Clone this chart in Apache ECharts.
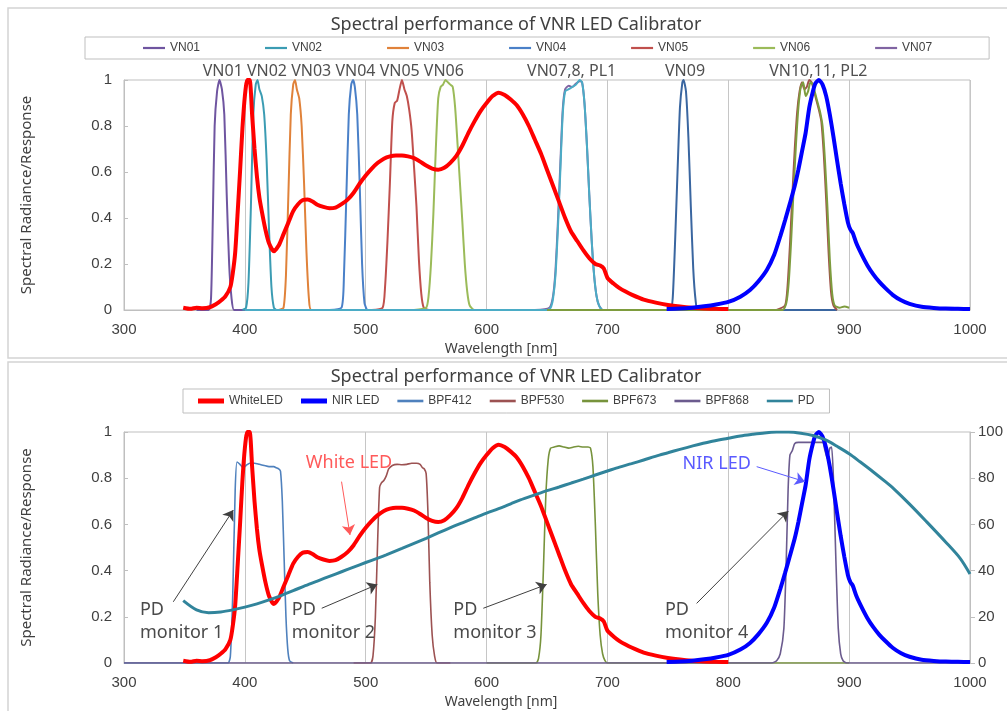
<!DOCTYPE html>
<html>
<head>
<meta charset="utf-8">
<script src="https://cdn.jsdelivr.net/npm/echarts@6/dist/echarts.min.js"></script>
<style>
  html, body { margin: 0; padding: 0; background: #fff; }
  #main { width: 1007px; height: 711px; }
</style>
</head>
<body>
<div id="main"></div>
<script>
// wavelength [nm], relative value
var whiteLed = [[349,0.01],[355,0.005],[360,0.01],[365,0.008],[371,0.012],[376,0.025],[380,0.04],[384,0.06],[388,0.1],[390,0.16],[392,0.25],[394,0.42],[396,0.6],[398,0.79],[400,0.93],[402,1.0],[404,1.0],[406,0.85],[408,0.7],[410,0.58],[412,0.49],[414,0.43],[417,0.35],[420,0.29],[424,0.255],[428,0.28],[432,0.33],[436,0.38],[440,0.43],[444,0.46],[448,0.478],[452,0.48],[456,0.472],[460,0.458],[465,0.448],[470,0.442],[475,0.445],[480,0.46],[485,0.48],[490,0.51],[495,0.55],[500,0.585],[505,0.615],[510,0.64],[515,0.658],[520,0.668],[525,0.672],[530,0.672],[535,0.668],[540,0.66],[545,0.645],[550,0.628],[555,0.615],[560,0.61],[565,0.618],[570,0.64],[575,0.67],[580,0.715],[585,0.77],[590,0.82],[595,0.865],[600,0.9],[605,0.93],[610,0.945],[615,0.935],[620,0.915],[625,0.89],[630,0.85],[635,0.8],[640,0.74],[645,0.68],[650,0.61],[655,0.54],[660,0.47],[665,0.4],[670,0.34],[675,0.3],[680,0.26],[685,0.225],[690,0.2],[694,0.193],[697,0.18],[700,0.14],[705,0.115],[710,0.095],[715,0.08],[720,0.067],[730,0.045],[740,0.032],[750,0.022],[760,0.015],[770,0.01],[780,0.007],[790,0.005],[800,0.004]];
var nirLed = [[749,0.004],[760,0.006],[770,0.01],[780,0.016],[790,0.024],[800,0.035],[810,0.058],[818,0.087],[825,0.125],[832,0.175],[838,0.24],[843,0.32],[847,0.39],[851,0.464],[855,0.54],[858,0.61],[861,0.69],[864,0.77],[867,0.88],[870,0.95],[872,0.985],[875,1.0],[878,0.98],[881,0.93],[884,0.85],[887,0.754],[890,0.65],[893,0.55],[896,0.46],[899,0.38],[901,0.35],[903,0.335],[906,0.29],[910,0.245],[915,0.195],[920,0.155],[925,0.122],[930,0.095],[936,0.066],[943,0.042],[950,0.027],[960,0.014],[970,0.009],[980,0.006],[990,0.005],[1000,0.004]];

var vn01 = [[360,0],[370,0],[372,0.05],[373.5,0.4],[375,0.8],[377,0.95],[379,1.0],[381,0.96],[383,0.85],[385,0.5],[387,0.2],[389,0.05],[391,0],[400,0]];
var vn02 = [[398,0],[401,0.01],[403,0.12],[405,0.45],[407,0.85],[409,0.98],[410.5,1.0],[412,0.96],[414,0.93],[416,0.85],[418,0.65],[420,0.35],[422,0.1],[424,0.01],[426,0]];
var vn03 = [[428,0],[432,0.01],[434,0.15],[436,0.5],[438,0.85],[440,0.98],[441.5,1.0],[443,0.96],[445,0.92],[447,0.8],[449,0.55],[451,0.25],[453,0.05],[455,0],[500,0]];
var vn04 = [[470,0],[480,0.01],[482,0.15],[484,0.5],[486,0.85],[488,0.98],[489.5,1.0],[491,0.97],[493,0.85],[495,0.55],[497,0.2],[499,0.03],[501,0]];
var vn05 = [[505,0],[514,0.01],[516,0.1],[518,0.3],[520,0.55],[522,0.82],[524,0.9],[526,0.91],[528,0.96],[530,1.0],[532,0.96],[534,0.93],[536,0.87],[538,0.78],[540,0.62],[542,0.45],[544,0.22],[546,0.07],[548,0.01],[552,0]];
var vn06 = [[540,0],[550,0.01],[552,0.06],[554,0.2],[556,0.42],[558,0.7],[560,0.92],[562,0.97],[564,0.98],[566,1.0],[568,0.99],[570,0.98],[572,0.97],[574,0.88],[576,0.72],[578,0.55],[580,0.38],[582,0.2],[584,0.08],[586,0.02],[590,0],[700,0]];
var vn07 = [[640,0],[652,0.01],[655,0.06],[657,0.17],[659,0.38],[661,0.63],[663,0.87],[665,0.96],[668,0.975],[671,0.97],[674,0.985],[677,0.995],[679,0.99],[681,0.9],[683,0.72],[685,0.5],[687,0.3],[689,0.15],[691,0.06],[693,0.02],[696,0],[700,0]];
var vn08 = [[400,0],[650,0],[653,0.01],[655,0.05],[657,0.15],[659,0.35],[661,0.6],[663,0.85],[665,0.95],[668,0.96],[671,0.97],[674,0.98],[677,1.0],[679,0.99],[681,0.9],[683,0.72],[685,0.5],[687,0.3],[689,0.15],[691,0.06],[693,0.02],[696,0],[705,0]];
var vn09 = [[740,0],[752,0],[754,0.05],[756,0.3],[758,0.6],[760,0.88],[762,0.99],[763,1.0],[765,0.95],[767,0.75],[769,0.45],[771,0.18],[773,0.04],[775,0],[890,0]];
var vn10 = [[650,0],[845,0],[848,0.03],[850,0.12],[852,0.3],[854,0.52],[856,0.72],[858,0.88],[860,0.97],[862,0.99],[864,0.93],[866,0.95],[868,0.99],[870,0.98],[872,0.94],[874,0.9],[876,0.86],[878,0.8],[880,0.65],[882,0.45],[884,0.22],[886,0.07],[888,0.02],[892,0.01],[896,0.015],[900,0.01]];
var vn11 = [[840,0],[847,0.02],[849,0.1],[851,0.28],[853,0.5],[855,0.7],[857,0.86],[859,0.95],[861,0.99],[863,0.96],[865,0.97],[867,1.0],[869,0.99],[871,0.95],[873,0.91],[875,0.87],[877,0.82],[879,0.68],[881,0.48],[883,0.25],[885,0.08],[887,0.02],[890,0]];

var bpf412 = [[300,0],[386,0],[388,0.03],[390,0.3],[392,0.75],[393.5,0.87],[396,0.86],[398.5,0.845],[401,0.855],[404,0.865],[408,0.865],[412,0.86],[416,0.855],[420,0.85],[424,0.85],[426,0.845],[428,0.84],[429.5,0.83],[431,0.7],[432.5,0.45],[434,0.2],[435.5,0.06],[437,0.01],[440,0]];
var bpf530 = [[490,0],[504,0],[506,0.03],[508,0.2],[510,0.55],[511.5,0.76],[513,0.78],[515,0.79],[517,0.81],[519,0.84],[522,0.855],[526,0.86],[530,0.858],[534,0.86],[538,0.865],[542,0.865],[545,0.86],[547,0.845],[548.5,0.84],[550,0.82],[551.5,0.65],[553,0.35],[555,0.12],[557,0.03],[559,0],[570,0]];
var bpf673 = [[600,0],[641,0],[643,0.02],[645,0.12],[647,0.4],[649,0.72],[651,0.88],[653,0.93],[656,0.935],[660,0.94],[664,0.935],[668,0.93],[672,0.935],[676,0.938],[680,0.935],[684,0.935],[686,0.93],[688,0.85],[690,0.6],[692,0.3],[694,0.12],[696,0.04],[698,0.01],[700,0],[900,0]];
var bpf868 = [[300,0],[836,0],[840,0.01],[843,0.04],[846,0.15],[848,0.45],[849.5,0.75],[851,0.9],[853,0.92],[855,0.95],[858,0.955],[865,0.955],[872,0.955],[878,0.955],[880,0.92],[882,0.885],[884,0.93],[885.5,0.935],[887,0.8],[889,0.45],[891,0.15],[893,0.04],[895,0.01],[898,0],[1000,0]];
// PD response in % (right axis)
var pdResp = [[349,27],[360,23],[370,21.8],[380,22.1],[390,23],[400,24.2],[410,25.6],[420,27.3],[430,29.2],[440,31.3],[450,33.5],[462,35.9],[470,37.5],[480,39.5],[490,41.5],[500,43.5],[510,45.4],[517,46.8],[530,49.6],[540,51.8],[550,54],[560,56.3],[572,59],[580,60.7],[590,62.8],[600,64.9],[610,66.8],[620,68.9],[628,70.6],[640,72.8],[650,74.6],[660,76.2],[670,77.9],[680,79.6],[690,81.4],[700,83.1],[710,84.8],[720,86.3],[730,87.9],[743,90],[750,91],[760,92.5],[770,93.9],[785,95.8],[800,97.3],[810,98.3],[820,99],[830,99.6],[840,99.95],[850,100],[860,99.5],[870,98.5],[881,96.5],[890,93.8],[900,90.6],[909,87.1],[920,82.7],[930,78.5],[937,75.4],[950,68.8],[964,61.2],[980,52.3],[992,45.2],[1000,38.5]];

var topLegend = ['VN01', 'VN02', 'VN03', 'VN04', 'VN05', 'VN06', 'VN07'];
var bottomLegend = ['WhiteLED', 'NIR LED', 'BPF412', 'BPF530', 'BPF673', 'BPF868', 'PD'];
var thickLegend = ['WhiteLED', 'NIR LED'];
var titleText = 'Spectral performance of VNR LED Calibrator';
var xTicks = { min: 300, max: 1000, step: 100 };

// labels above the top plot: [centre wavelength, text]
var bandLabels = [[473.2, 'VN01 VN02 VN03 VN04 VN05 VN06'], [670.4, 'VN07,8, PL1'], [764.2, 'VN09'], [874.5, 'VN10,11, PL2']];
// bottom plot notes: [wavelength, value, text]
var pdNotes = [[313.2, 0.18, 'PD\nmonitor 1'], [438.8, 0.18, 'PD\nmonitor 2'], [572.5, 0.18, 'PD\nmonitor 3'], [747.6, 0.18, 'PD\nmonitor 4']];
var pdArrows = [[[340.8, 0.265], [390.4, 0.662]], [[463.6, 0.237], [509.6, 0.34]], [[597.3, 0.237], [649.7, 0.34]], [[773.8, 0.258], [849.7, 0.658]]];
var ledNotes = [[486.2, 0.866, 'White LED', '#ff5a5a', [[480, 0.785], [487, 0.554]]], [790.4, 0.864, 'NIR LED', '#5a5aff', [[823.5, 0.85], [863.5, 0.785]]]];

var FONT = "'Noto Sans', 'Liberation Sans', sans-serif";
var TXT = '#404040';
var GRIDC = '#c6c6c6';
var THIN_ICON = 'path://M0,0H10V1H0Z';

function xAxisFor(gi) {
    return {
        type: 'value', gridIndex: gi, min: xTicks.min, max: xTicks.max, interval: xTicks.step,
        name: 'Wavelength [nm]', nameLocation: 'middle', nameGap: 32,
        nameTextStyle: { color: TXT, fontSize: 14, fontFamily: FONT, padding: [0, 92, 0, 0] },
        axisLine: { lineStyle: { color: '#bfbfbf' } },
        axisTick: { show: false },
        axisLabel: { color: TXT, fontSize: 15, fontFamily: 'Liberation Sans', margin: 12,
                     formatter: function (v) { return String(v); } },
        splitLine: { show: true, lineStyle: { color: GRIDC, width: 1 } }
    };
}
function yAxisFor(gi) {
    return {
        type: 'value', gridIndex: gi, min: 0, max: 1, interval: 0.2,
        name: 'Spectral Radiance/Response', nameLocation: 'middle', nameGap: 90, nameRotate: 90,
        nameTextStyle: { color: TXT, fontSize: 15, fontFamily: FONT },
        axisLine: { show: true, lineStyle: { color: '#bfbfbf' } },
        axisTick: { show: true, inside: true, length: 4, lineStyle: { color: '#bfbfbf' } },
        axisLabel: { color: TXT, fontSize: 15, fontFamily: 'Liberation Sans', margin: 12 },
        splitLine: { show: false }
    };
}
function band(name, data, color, gi, width) {
    return {
        name: name, type: 'line', data: data, xAxisIndex: gi, yAxisIndex: gi,
        showSymbol: false, symbol: 'none', smooth: 0.2, silent: true,
        lineStyle: { color: color, width: width || 2 }, itemStyle: { color: color }
    };
}

var chart = echarts.init(document.getElementById('main'), null, { renderer: 'canvas' });

var series = [
    band('VN01', vn01, '#6f55a0', 0),
    band('VN02', vn02, '#3b9cb3', 0),
    band('VN03', vn03, '#e0823a', 0),
    band('VN04', vn04, '#4a80c8', 0),
    band('VN05', vn05, '#c0504d', 0),
    band('VN06', vn06, '#9bbb59', 0),
    band('VN07', vn07, '#8064a2', 0),
    band('VN08', vn08, '#4bacc6', 0),
    band('VN09', vn09, '#3a66a0', 0),
    band('VN11', vn11, '#a0524a', 0),
    band('VN10', vn10, '#7e9c3e', 0),
    band('White LED (VN)', whiteLed, '#ff0000', 0, 4),
    band('NIR LED (VN)', nirLed, '#0000ff', 0, 4),
    {
        name: 'topNotes', type: 'line', data: [], xAxisIndex: 0, yAxisIndex: 0, silent: true,
        markPoint: {
            symbol: 'rect', symbolSize: 0, silent: true,
            label: { show: true, position: 'top', distance: 1, color: '#505050', fontSize: 16, fontFamily: FONT },
            data: bandLabels.map(function (b) {
                return { coord: [b[0], 1], label: { formatter: b[1] } };
            })
        }
    },
    band('BPF412', bpf412, '#4f81bd', 1, 1.6),
    band('BPF530', bpf530, '#9c5252', 1, 1.6),
    band('BPF673', bpf673, '#77933c', 1, 1.6),
    band('BPF868', bpf868, '#6b5b8e', 1, 1.6),
    band('WhiteLED', whiteLed, '#ff0000', 1, 4),
    band('NIR LED', nirLed, '#0000ff', 1, 4),
    {
        name: 'PD', type: 'line', data: pdResp, xAxisIndex: 1, yAxisIndex: 2,
        showSymbol: false, symbol: 'none', smooth: 0.3, silent: true,
        lineStyle: { color: '#31849b', width: 3 }, itemStyle: { color: '#31849b' }
    },
    {
        name: 'bottomNotes', type: 'line', data: [], xAxisIndex: 1, yAxisIndex: 1, silent: true,
        markPoint: {
            symbol: 'rect', symbolSize: 0, silent: true,
            label: { show: true, fontFamily: FONT, fontSize: 18, lineHeight: 23 },
            data: pdNotes.map(function (n) {
                return { coord: [n[0], n[1]], label: { formatter: n[2], position: 'right', distance: 0, align: 'left', color: '#4a4a4a' } };
            }).concat(ledNotes.map(function (n) {
                return { coord: [n[0], n[1]], label: { formatter: n[2], position: 'inside', color: n[3] } };
            }))
        },
        markLine: {
            silent: true, symbol: ['none', 'arrow'], symbolSize: 10,
            label: { show: false },
            itemStyle: { color: '#000000' },
            lineStyle: { color: TXT, width: 1, type: 'solid' },
            data: pdArrows.map(function (a) {
                return [{ coord: a[0] }, { coord: a[1] }];
            }).concat(ledNotes.map(function (n) {
                return [{ coord: n[4][0], lineStyle: { color: n[3], width: 1, type: 'solid' }, itemStyle: { color: n[3] } },
                        { coord: n[4][1], itemStyle: { color: n[3] } }];
            }))
        }
    }
];

var legendBase = {
    orient: 'horizontal', borderColor: '#bfbfbf', borderWidth: 1,
    itemHeight: 5, selectedMode: false,
    textStyle: { color: TXT, fontSize: 12, fontFamily: 'Liberation Sans' }
};

chart.setOption({
    animation: false,
    backgroundColor: '#ffffff',
    title: [
        { text: titleText, left: 516, top: 16, textAlign: 'center', padding: 0,
          textStyle: { color: TXT, fontSize: 18, fontWeight: 'normal', fontFamily: FONT } },
        { text: titleText, left: 516, top: 368, textAlign: 'center', padding: 0,
          textStyle: { color: TXT, fontSize: 18, fontWeight: 'normal', fontFamily: FONT } }
    ],
    legend: [
        Object.assign({}, legendBase, {
            data: topLegend.map(function (n) { return { name: n, icon: THIN_ICON }; }),
            left: 85, top: 37, itemWidth: 22, itemGap: 65, padding: [5, 57, 5, 58]
        }),
        Object.assign({}, legendBase, {
            data: bottomLegend.map(function (n) { return { name: n, icon: thickLegend.indexOf(n) >= 0 ? 'rect' : THIN_ICON }; }),
            left: 183, top: 389, itemWidth: 26, itemGap: 18, padding: [6, 15, 6, 15]
        })
    ],
    grid: [
        { left: 124, right: 37, top: 80, height: 230, show: true, borderColor: '#bfbfbf', borderWidth: 1 },
        { left: 124, right: 37, top: 432, height: 231, show: true, borderColor: '#bfbfbf', borderWidth: 1 }
    ],
    xAxis: [xAxisFor(0), xAxisFor(1)],
    yAxis: [
        yAxisFor(0),
        yAxisFor(1),
        {
            type: 'value', gridIndex: 1, position: 'right', min: 0, max: 100, interval: 20,
            axisLine: { show: true, lineStyle: { color: '#bfbfbf' } },
            axisTick: { show: true, length: 5, lineStyle: { color: '#bfbfbf' } },
            axisLabel: { color: TXT, fontSize: 15, fontFamily: 'Liberation Sans', margin: 8 },
            splitLine: { show: false }
        }
    ],
    graphic: [
        { type: 'rect', shape: { x: 8, y: 8, width: 1100, height: 350 }, style: { fill: 'none', stroke: '#d4d4d4', lineWidth: 1.5 }, silent: true },
        { type: 'rect', shape: { x: 8, y: 362, width: 1100, height: 360 }, style: { fill: 'none', stroke: '#d4d4d4', lineWidth: 1.5 }, silent: true }
    ],
    series: series
});
</script>
</body>
</html>
